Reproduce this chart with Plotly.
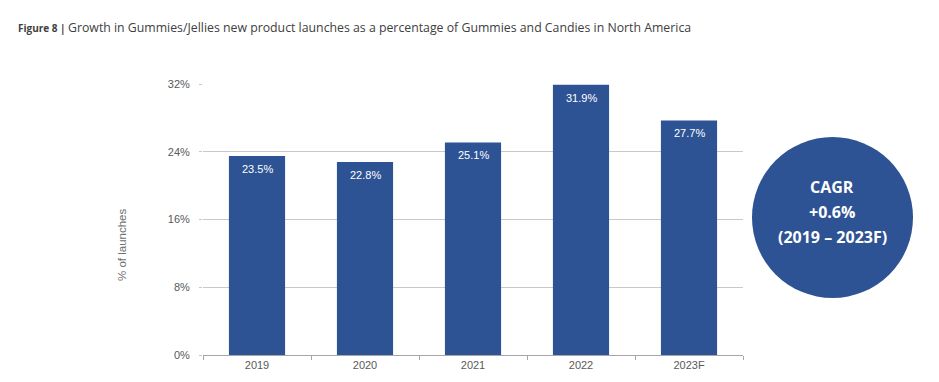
import plotly.graph_objects as go

categories = ["2019", "2020", "2021", "2022", "2023F"]
values = [23.5, 22.8, 25.1, 31.9, 27.7]
value_labels = ["23.5%", "22.8%", "25.1%", "31.9%", "27.7%"]
y_ticks = [0, 8, 16, 24, 32]
y_tick_labels = ["0%", "8%", "16%", "24%", "32%"]

# page body has an 8px margin, so the figure is placed 8px in from the window edge
OFF = 8
W, H = 939 - OFF, 382 - OFF
L, R, T, B = 203 - OFF, W - (743 - OFF), 84 - OFF, H - (355 - OFF)
pw, ph = W - L - R, H - T - B

def px(x):  # window x -> paper
    return (x - OFF - L) / pw

def py(y):  # window y -> paper
    return (H - B - (y - OFF)) / ph

bar_color = "#2E5395"
grey_txt = "#595959"

fig = go.Figure()
fig.add_trace(go.Bar(
    x=categories, y=values,
    marker=dict(color=bar_color, line=dict(width=0)),
    width=0.52, hoverinfo="skip",
))

annotations = [
    dict(x=i, y=v, xref="x", yref="y", text=t, showarrow=False,
         yanchor="middle", yshift=-13,
         font=dict(family="Liberation Sans, Arial", size=11, color="white"))
    for i, (v, t) in enumerate(zip(values, value_labels))
]
annotations += [
    dict(xref="paper", yref="paper", x=px(16), y=py(28), xanchor="left", yanchor="middle",
         showarrow=False, text="<b>Figure 8 |</b>",
         font=dict(family="Open Sans", size=10, color="#404040")),
    dict(xref="paper", yref="paper", x=px(66), y=py(28), xanchor="left", yanchor="middle",
         showarrow=False,
         text="Growth in Gummies/Jellies new product launches as a percentage of Gummies and Candies in North America",
         font=dict(family="Open Sans", size=12.3, color="#404040")),
    dict(xref="paper", yref="paper", x=px(122), y=py(245), xanchor="center", yanchor="middle",
         showarrow=False, textangle=-90, text="% of launches",
         font=dict(family="Liberation Sans, Arial", size=11.5, color="#6E6E6E")),
]
for txt, yy in [("CAGR", 187), ("+0.6%", 212), ("(2019 – 2023F)", 237)]:
    annotations.append(dict(
        xref="paper", yref="paper", x=px(832), y=py(yy), xanchor="center", yanchor="middle",
        showarrow=False, text=f"<b>{txt}</b>",
        font=dict(family="Open Sans", size=16, color="white")))

fig.update_layout(
    width=W, height=H,
    margin=dict(l=L, r=R, t=T, b=B, pad=0, autoexpand=False),
    paper_bgcolor="white", plot_bgcolor="white",
    showlegend=False,
    font=dict(family="Liberation Sans, Arial", size=11, color=grey_txt),
    xaxis=dict(
        type="category", range=[-0.5, 4.5], showgrid=False, showline=True,
        linecolor="#A6A6A6", linewidth=1, ticks="outside", tickson="boundaries",
        ticklen=4, tickcolor="#A6A6A6", tickangle=0,
        tickfont=dict(size=11, color=grey_txt), fixedrange=True,
    ),
    yaxis=dict(
        range=[0, 32], tickvals=y_ticks, ticktext=y_tick_labels,
        showgrid=True, gridcolor="#C8C8C8", gridwidth=1, zeroline=False,
        showline=False, ticks="outside", ticklen=3, tickcolor="#C8C8C8",
        ticklabelstandoff=7, tickfont=dict(size=11, color=grey_txt),
        fixedrange=True,
    ),
    shapes=[dict(
        type="circle", xref="paper", yref="paper",
        x0=px(752), x1=px(913), y0=py(298), y1=py(137),
        fillcolor=bar_color, line=dict(color=bar_color, width=0), layer="above",
    )],
    annotations=annotations,
)

fig.write_html("out.html")
